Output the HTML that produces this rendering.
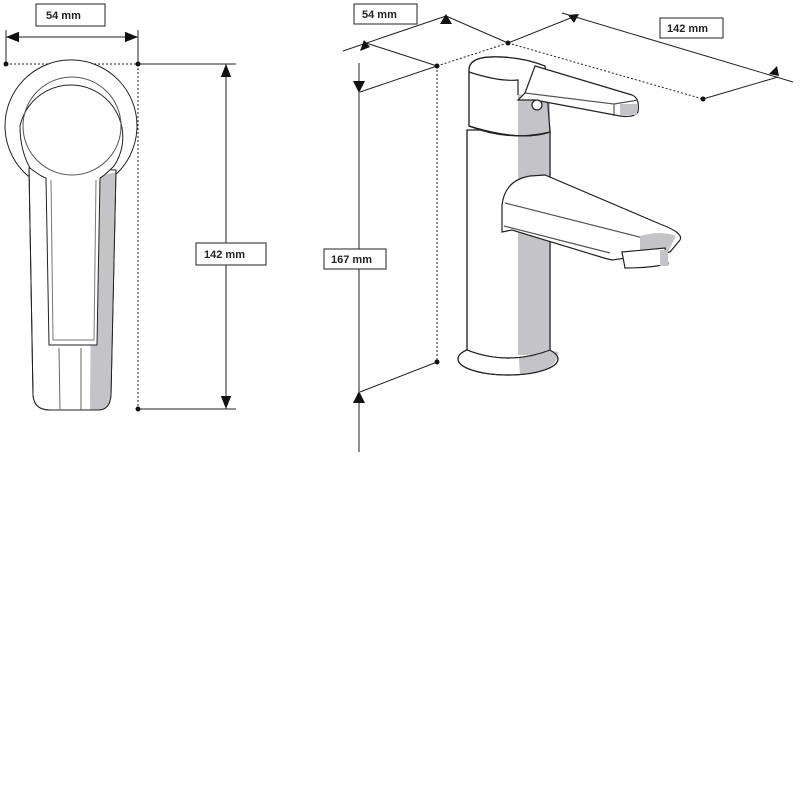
<!DOCTYPE html>
<html><head><meta charset="utf-8"><style>
html,body{margin:0;padding:0;background:#fff;width:800px;height:800px;overflow:hidden}
svg{display:block}
text{font-family:"Liberation Sans",Arial,sans-serif;font-size:11px;font-weight:bold;fill:#222}
</style></head><body>
<svg width="800" height="800" viewBox="0 0 800 800" xmlns="http://www.w3.org/2000/svg">
<defs>
<marker id="a" viewBox="0 0 10 10" refX="10" refY="5" markerWidth="13" markerHeight="13" markerUnits="userSpaceOnUse" orient="auto-start-reverse"><path d="M0,1 L10,5 L0,9 z" fill="#111"/></marker>
</defs>
<g stroke="#222" stroke-width="1" fill="none">
<line x1="6" y1="37" x2="138" y2="37" marker-start="url(#a)" marker-end="url(#a)"/>
<line x1="6" y1="30" x2="6" y2="64"/>
<line x1="138" y1="30" x2="138" y2="64"/>
<line x1="6" y1="64" x2="138" y2="64" stroke-dasharray="2,2"/>
<line x1="138" y1="64" x2="138" y2="409" stroke-dasharray="2,2"/>
<line x1="138" y1="64" x2="236" y2="64"/>
<line x1="138" y1="409" x2="236" y2="409"/>
<line x1="226" y1="64" x2="226" y2="409" marker-start="url(#a)" marker-end="url(#a)"/>
</g>
<g fill="#111"><circle cx="6" cy="64" r="2.5"/><circle cx="138" cy="64" r="2.5"/><circle cx="138" cy="409" r="2.5"/></g>
<rect x="36" y="4" width="69" height="22" fill="#fff" stroke="#222"/>
<text x="46" y="19">54 mm</text>
<rect x="196" y="243" width="70" height="22" fill="#fff" stroke="#222"/>
<text x="204" y="258">142 mm</text>
<g stroke="#222" stroke-width="1">
<path d="M28,176 A66,66 0 1 1 114,176 Z" fill="#fff"/>
<path d="M29,168 L33,395 Q34,410 50,410 L98,410 Q110,410 111,395 L116,170 Z" fill="#fff"/>
<path d="M92,178 L116,172 L111,395 Q110,410 98,410 L90,410 Z" fill="#c4c4c8" stroke="none"/>
<path d="M29,168 L33,395 Q34,410 50,410 L98,410 Q110,410 111,395 L116,170" fill="none"/>
<path d="M30,168 Q20,150 20,126 A52,52 0 1 1 114,166 Q104,176 100,178 L97,345 L49,345 L46,178 Q40,176 30,168 Z" fill="#fff"/>
<circle cx="72" cy="126" r="49" fill="none" stroke="#555"/>
<path d="M51,180 L53,340 L94,340 L96,180" fill="none" stroke="#777"/>
<line x1="59" y1="348" x2="60" y2="410" stroke="#666"/>
<line x1="81" y1="348" x2="81" y2="410" stroke="#666"/>
</g>
<g stroke="#222" stroke-width="1" fill="none">
<line x1="343" y1="51" x2="446" y2="16"/>
<line x1="363" y1="42" x2="437" y2="66"/>
<line x1="446" y1="16" x2="508" y2="43"/>
<line x1="508" y1="43" x2="578" y2="15"/>
<line x1="562" y1="13" x2="793" y2="82"/>
<line x1="703" y1="99" x2="778" y2="77"/>
<line x1="360" y1="92" x2="437" y2="66"/>
<line x1="437" y1="362" x2="360" y2="392"/>
<line x1="359" y1="63" x2="359" y2="452"/>
<line x1="437" y1="66" x2="508" y2="43" stroke-dasharray="2,2"/>
<line x1="508" y1="43" x2="703" y2="99" stroke-dasharray="2,2"/>
<line x1="437" y1="66" x2="437" y2="362" stroke-dasharray="2,2"/>
</g>
<g fill="#111">
<path d="M359,93 l-6,-12 l12,0z"/><path d="M359,391 l-6,12 l12,0z"/>
<path d="M446,14 l-6,10 l12,0z"/>
<path d="M364,40 l-4,11 l10,-4z"/>
<path d="M579,14 l-11,1 l6,8z"/>
<path d="M779,76 l-2,-10 l-8,8z"/>
<circle cx="437" cy="66" r="2.5"/><circle cx="508" cy="43" r="2.5"/><circle cx="703" cy="99" r="2.5"/><circle cx="437" cy="362" r="2.5"/>
</g>
<rect x="354" y="4" width="63" height="20" fill="#fff" stroke="#222"/>
<text x="362" y="18">54 mm</text>
<rect x="660" y="18" width="63" height="20" fill="#fff" stroke="#222"/>
<text x="667" y="32">142 mm</text>
<rect x="324" y="249" width="62" height="20" fill="#fff" stroke="#222"/>
<text x="331" y="263">167 mm</text>
<g stroke="#222" stroke-width="1.2">
<ellipse cx="508" cy="359" rx="50" ry="16" fill="#fff"/>
<path d="M518,345 L558,352 Q558,372 520,375 Z" fill="#c4c4c8" stroke="none"/>
<ellipse cx="508" cy="359" rx="50" ry="16" fill="none"/>
<path d="M467,130 L467,350 Q508,366 550,350 L550,130 Z" fill="#fff"/>
<rect x="518" y="132" width="32" height="223" fill="#c4c4c8" stroke="none"/>
<path d="M467,130 L467,350 Q508,366 550,350 L550,130" fill="none"/>
<path d="M469,70 Q469,58 490,57 Q520,56 545,66 L550,132 Q520,142 469,126 Z" fill="#fff"/>
<path d="M518,94 L550,100 L550,132 Q535,136 518,136 Z" fill="#c4c4c8" stroke="none"/>
<path d="M469,70 Q469,58 490,57 Q520,56 545,66 L550,132 Q520,142 469,126 Z" fill="none"/>
<path d="M469,126 Q508,142 550,132" fill="none"/>
<path d="M469,72 Q500,82 518,80 L518,95" fill="none"/>
<path d="M535,66 L632,95 Q640,98 638,112 Q634,118 620,116 L535,100 L518,100 L525,93 Z" fill="#fff"/>
<path d="M525,93 L614,104 L614,116 M614,104 L638,100" fill="none" stroke="#555"/>
<rect x="620" y="104" width="17" height="11" fill="#c4c4c8" stroke="none"/>
<circle cx="537" cy="105" r="5" fill="#fff"/>
<path d="M502,232 L502,205 Q505,180 530,176 L545,175 L660,224 Q684,233 680,240 L670,252 L612,260 L604,258 L512,230 Z" fill="#fff"/>
<path d="M505,203 L663,243 M504,226 L610,253" fill="none" stroke="#555"/>
<path d="M640,236 Q660,230 676,236 L668,252 Q650,252 640,254 Z" fill="#c4c4c8" stroke="none"/>
<path d="M622,252 L665,248 L668,264 Q650,268 625,268 Z" fill="#fff"/>
<rect x="660" y="250" width="8" height="16" fill="#c4c4c8" stroke="none"/>
</g>
</svg>
</body></html>
